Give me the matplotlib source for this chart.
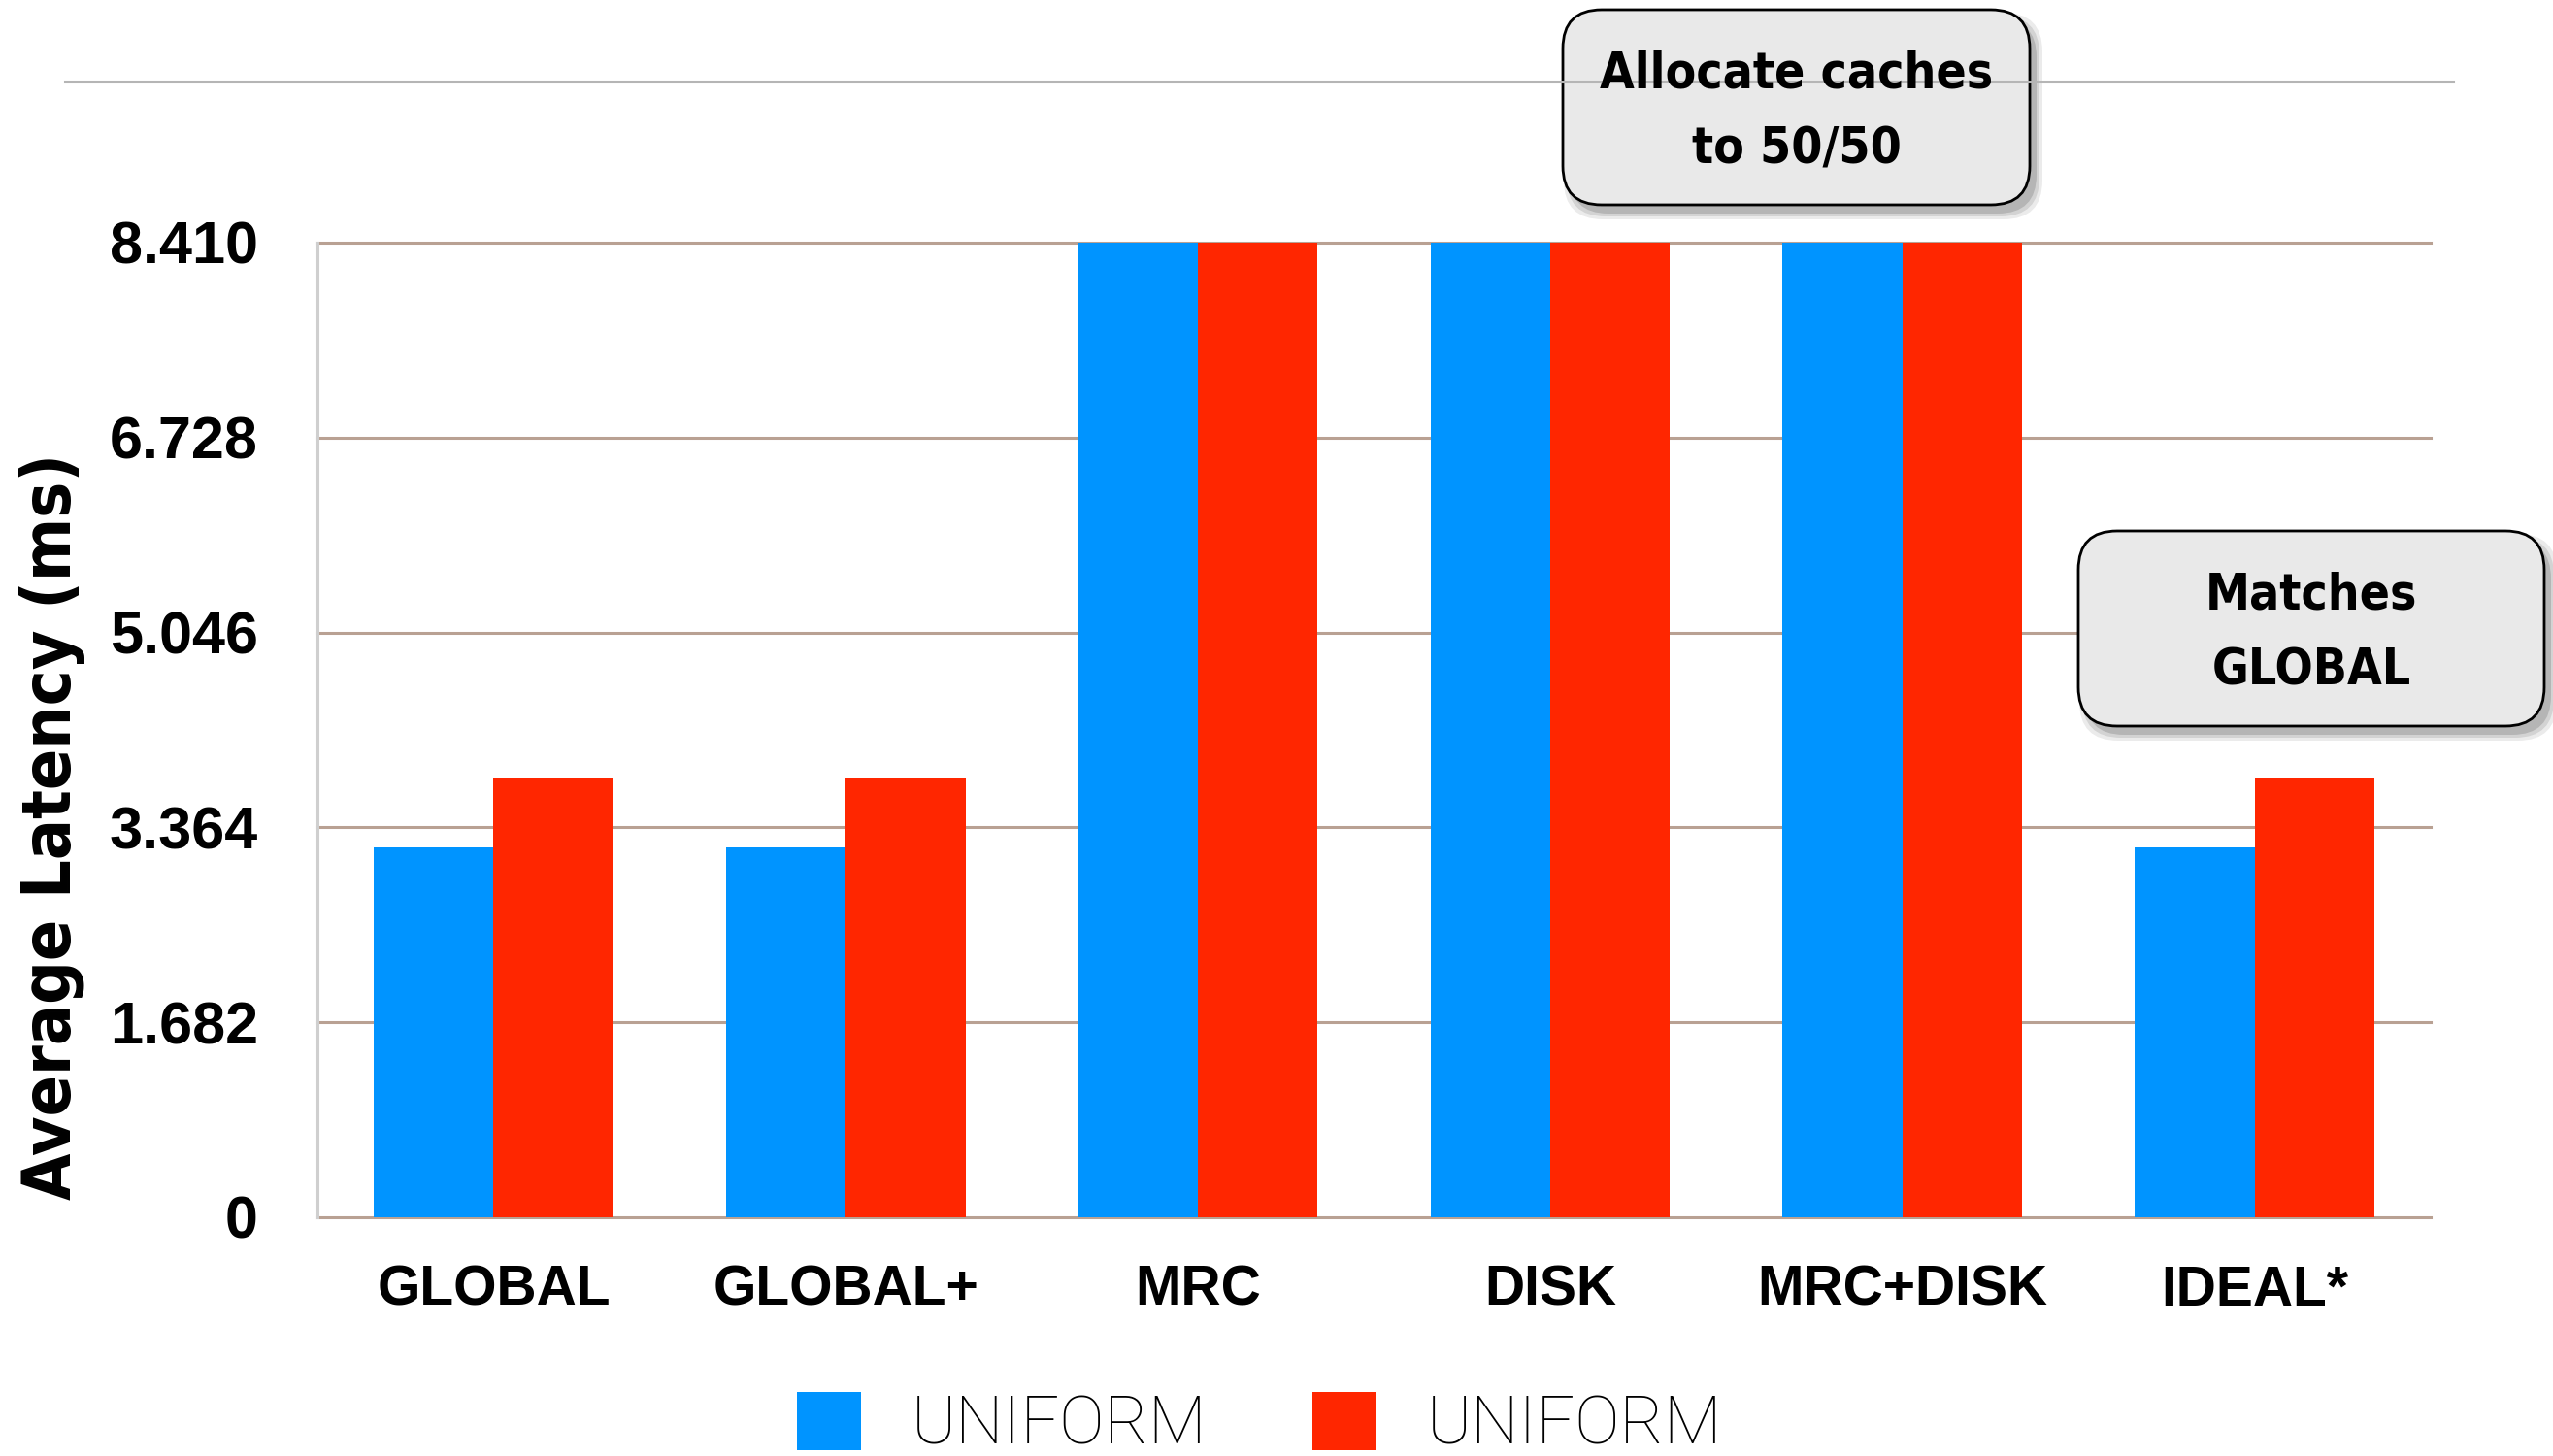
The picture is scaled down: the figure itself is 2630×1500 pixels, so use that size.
import numpy as np
import matplotlib.pyplot as plt
from matplotlib.patches import FancyBboxPatch
from matplotlib.lines import Line2D

categories = ['GLOBAL', 'GLOBAL+', 'MRC', 'DISK', 'MRC+DISK', 'IDEAL*']
uniform_blue = [3.19, 3.19, 8.41, 8.41, 8.41, 3.19]
uniform_red = [3.79, 3.79, 8.41, 8.41, 8.41, 3.79]
series_labels = ['UNIFORM', 'UNIFORM']
y_ticks = [0, 1.682, 3.364, 5.046, 6.728, 8.410]
y_tick_labels = ['0', '1.682', '3.364', '5.046', '6.728', '8.410']
notes = ['Allocate caches\nto 50/50', 'Matches\nGLOBAL']

BLUE = '#0094ff'
RED = '#ff2600'
GRID = '#b9a193'
NARROW = ['Noto Sans Condensed', 'DejaVu Sans']
W, H = 2630, 1500

fig = plt.figure(figsize=(W / 100, H / 100), dpi=100)
ax = fig.add_axes([327 / W, 1 - 1254 / H, (2504 - 327) / W, (1254 - 250) / H])

x = np.arange(len(categories))
w = 0.34
b1 = ax.bar(x - w / 2, uniform_blue, w, color=BLUE, zorder=2)
b2 = ax.bar(x + w / 2, uniform_red, w, color=RED, zorder=2)

ax.set_xlim(-0.5, len(categories) - 0.5)
ax.set_ylim(0, 8.41)
ax.set_yticks(y_ticks)
ax.set_yticklabels(y_tick_labels, fontsize=44, fontweight='bold', family='Liberation Sans')
ax.set_xticks(x)
ax.set_xticklabels(categories, fontsize=41, fontweight='bold', family='Liberation Sans')
ax.tick_params(axis='y', length=0, pad=44)
ax.tick_params(axis='x', length=0, pad=35)

ax.yaxis.grid(True, color=GRID, lw=2.2)
ax.set_axisbelow(True)
for gl in ax.get_ygridlines():
    gl.set_clip_on(False)
for s in ['top', 'right', 'bottom']:
    ax.spines[s].set_visible(False)
ax.spines['left'].set_color('#cfcfcf')
ax.spines['left'].set_linewidth(2.2)

# y label
fig.text(54 / W, 1 - 851 / H, 'Average Latency (ms)', rotation=90, ha='center', va='center',
         fontsize=50, fontweight='bold', family=NARROW, fontstretch='condensed')

# grey rule near the top
fig.add_artist(Line2D([67 / W, 2527 / W], [1 - 84 / H, 1 - 84 / H], color='#b5b5b5', lw=2.2))


def callout(x0, y0, x1, y1, text):
    # box given in pixels from the top left
    bx, by = x0 / 100, (H - y1) / 100
    bw, bh = (x1 - x0) / 100, (y1 - y0) / 100
    for k, a in enumerate([0.08, 0.1, 0.14]):
        grow = (2 - k) * 0.03
        sh = FancyBboxPatch((bx + 0.07 - grow, by - 0.09 - grow), bw + 2 * grow, bh + 2 * grow,
                            boxstyle='round,pad=0,rounding_size=0.4',
                            transform=fig.dpi_scale_trans, fc='black', ec='none', alpha=a)
        fig.add_artist(sh)
    box = FancyBboxPatch((bx, by), bw, bh, boxstyle='round,pad=0,rounding_size=0.4',
                         transform=fig.dpi_scale_trans, fc='#e9e9e9', ec='black', lw=2)
    fig.add_artist(box)
    fig.text((x0 + x1) / 2 / W, 1 - ((y0 + y1) / 2 + 5) / H, text, ha='center', va='center',
             fontsize=37, fontweight='bold', family=NARROW, fontstretch='condensed',
             linespacing=1.72)


callout(1610, 10, 2091, 211, notes[0])
callout(2141, 547, 2621, 748, notes[1])

fig.legend([b1, b2], series_labels, loc='center', bbox_to_anchor=(0.4935, 1 - 1468 / H), ncol=2,
           frameon=False, prop=dict(family='Roboto', weight='light', size=50),
           handlelength=0.95, handleheight=0.95, handletextpad=0.75, columnspacing=1.56,
           borderpad=0, borderaxespad=0)

fig.savefig('out.png', dpi=100)
